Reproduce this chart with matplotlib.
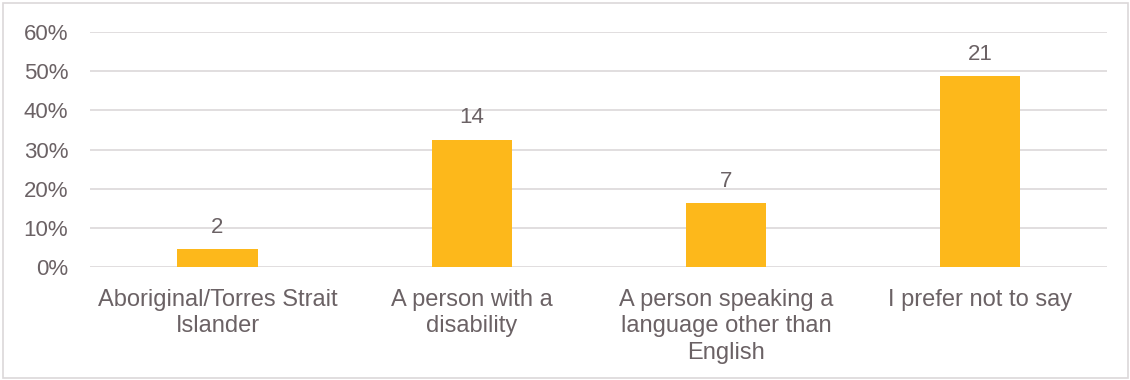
import matplotlib.pyplot as plt
from matplotlib.ticker import PercentFormatter

categories = ['Aboriginal/Torres Strait\nIslander', 'A person with a\ndisability',
              'A person speaking a\nlanguage other than\nEnglish', 'I prefer not to say']
counts = [2, 14, 7, 21]
total = 43
shares = [c / total for c in counts]

plt.rcParams['font.family'] = ['Liberation Sans', 'DejaVu Sans']
text_col = '#6b6265'
grid_col = '#dcd8d9'

fig = plt.figure(figsize=(11.3, 3.8), dpi=100)
fig.patches.append(plt.Rectangle((0.003, 0.005), 0.995, 0.987, transform=fig.transFigure,
                                 fill=False, edgecolor=grid_col, lw=1.2))
ax = fig.add_axes([0.080, 0.297, 0.900, 0.619])

x = range(len(categories))
bars = ax.bar(x, shares, width=0.315, color='#fdb81b', zorder=3)
for b, c in zip(bars, counts):
    ax.annotate(str(c), (b.get_x() + b.get_width() / 2, b.get_height()),
                xytext=(0, 8), textcoords='offset points', ha='center', va='bottom',
                fontsize=16, color=text_col)

ax.set_xlim(-0.5, len(categories) - 0.5)
ax.set_ylim(0, 0.6)
ax.set_yticks([i / 10 for i in range(7)])
ax.yaxis.set_major_formatter(PercentFormatter(1.0, decimals=0))
ax.grid(axis='y', color=grid_col, lw=1.2, zorder=0)
ax.set_xticks(list(x))
ax.set_xticklabels(categories, fontsize=17, color=text_col, linespacing=1.27)
ax.tick_params(axis='y', labelsize=16, labelcolor=text_col, length=0, pad=16)
ax.tick_params(axis='x', length=0, pad=15.5)
for s in ax.spines.values():
    s.set_visible(False)

fig.savefig('out.png', dpi=100)
